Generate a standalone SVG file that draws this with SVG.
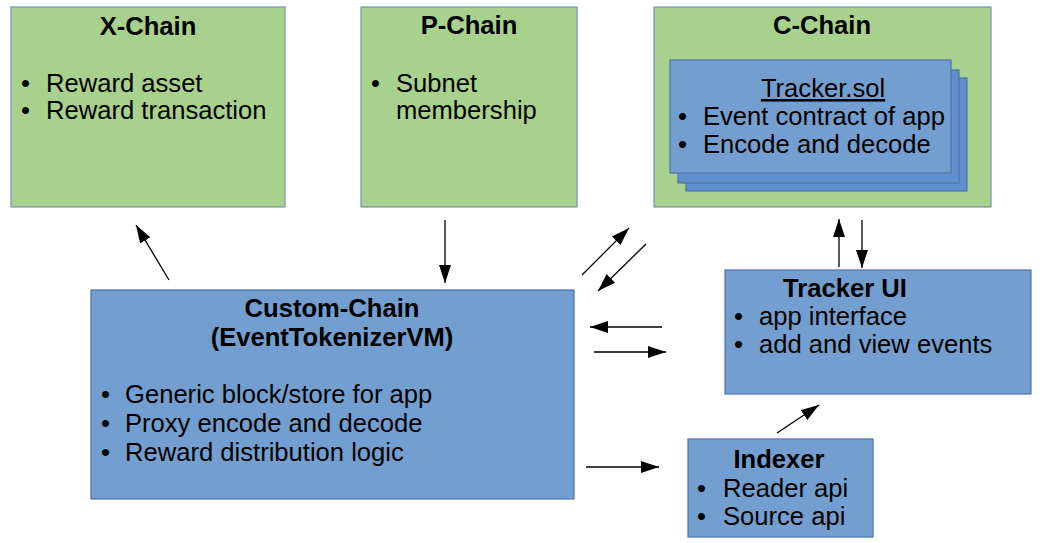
<svg xmlns="http://www.w3.org/2000/svg" width="1043" height="543" viewBox="0 0 1043 543">
<style>
.g{fill:#a9d18e;stroke:#7890b0;stroke-width:1.2}
.b{fill:#729fcf;stroke:#4f73a8;stroke-width:1.2}
.b2{fill:#5f8fcc;stroke:#4f73a8;stroke-width:1.2}
text{font-family:"Liberation Sans",Arial,sans-serif;font-size:25.6px;fill:#000}
.t{font-weight:bold;text-anchor:middle}
.c{text-anchor:middle}
.ln{stroke:#000;stroke-width:1.3;fill:none}
</style>
<defs>
<marker id="ah" markerUnits="userSpaceOnUse" markerWidth="18" markerHeight="12" refX="18" refY="6" orient="auto">
<path d="M0,0 L18,6 L0,12 z" fill="#000"/>
</marker>
</defs>
<rect width="1043" height="543" fill="#fff"/>
<g id="x-chain">
<rect class="g" x="11" y="7" width="274" height="200"/>
<text class="t" x="148" y="35">X-Chain</text>
<text x="21" y="92">•</text><text x="46" y="92">Reward asset</text>
<text x="21" y="119">•</text><text x="46" y="119">Reward transaction</text>
</g>
<g id="p-chain">
<rect class="g" x="361" y="7" width="216" height="200"/>
<text class="t" x="469" y="34">P-Chain</text>
<text x="371" y="92">•</text><text x="396" y="92">Subnet</text>
<text x="396" y="119">membership</text>
</g>
<g id="c-chain">
<rect class="g" x="654" y="7" width="337" height="200"/>
<text class="t" x="822" y="34">C-Chain</text>
</g>
<g id="tracker-sol">
<rect class="b2" x="686" y="78" width="281" height="113"/>
<rect class="b2" x="678" y="70" width="281" height="113"/>
<rect class="b" x="670" y="60" width="281" height="113"/>
<text class="c" x="823" y="97" text-decoration="underline">Tracker.sol</text>
<text x="678" y="125">•</text><text x="703" y="125">Event contract of app</text>
<text x="678" y="153">•</text><text x="703" y="153">Encode and decode</text>
</g>
<g id="custom-chain">
<rect class="b" x="91" y="290" width="483" height="209"/>
<text class="t" x="332" y="317">Custom-Chain</text>
<text class="t" x="332" y="346">(EventTokenizerVM)</text>
<text x="101" y="403">•</text><text x="125" y="403">Generic block/store for app</text>
<text x="101" y="432">•</text><text x="125" y="432">Proxy encode and decode</text>
<text x="101" y="461">•</text><text x="125" y="461">Reward distribution logic</text>
</g>
<g id="tracker-ui">
<rect class="b" x="725" y="270" width="306" height="124"/>
<text class="t" x="845" y="297">Tracker UI</text>
<text x="734" y="325">•</text><text x="759" y="325">app interface</text>
<text x="734" y="353">•</text><text x="759" y="353">add and view events</text>
</g>
<g id="indexer">
<rect class="b" x="688" y="439" width="185" height="98"/>
<text class="t" x="779" y="468">Indexer</text>
<text x="697" y="497">•</text><text x="723" y="497">Reader api</text>
<text x="697" y="525">•</text><text x="723" y="525">Source api</text>
</g>
<g id="connectors">
<line class="ln" x1="169" y1="280" x2="136" y2="225" marker-end="url(#ah)"/>
<line class="ln" x1="445" y1="220" x2="445" y2="283" marker-end="url(#ah)"/>
<line class="ln" x1="582" y1="275" x2="629" y2="228" marker-end="url(#ah)"/>
<line class="ln" x1="646" y1="244" x2="598" y2="291" marker-end="url(#ah)"/>
<line class="ln" x1="662" y1="327" x2="590" y2="327" marker-end="url(#ah)"/>
<line class="ln" x1="594" y1="352" x2="666" y2="352" marker-end="url(#ah)"/>
<line class="ln" x1="839" y1="267" x2="839" y2="219" marker-end="url(#ah)"/>
<line class="ln" x1="862" y1="220" x2="862" y2="268" marker-end="url(#ah)"/>
<line class="ln" x1="586" y1="467" x2="659" y2="467" marker-end="url(#ah)"/>
<line class="ln" x1="777" y1="433" x2="819" y2="405" marker-end="url(#ah)"/>
</g>
</svg>
